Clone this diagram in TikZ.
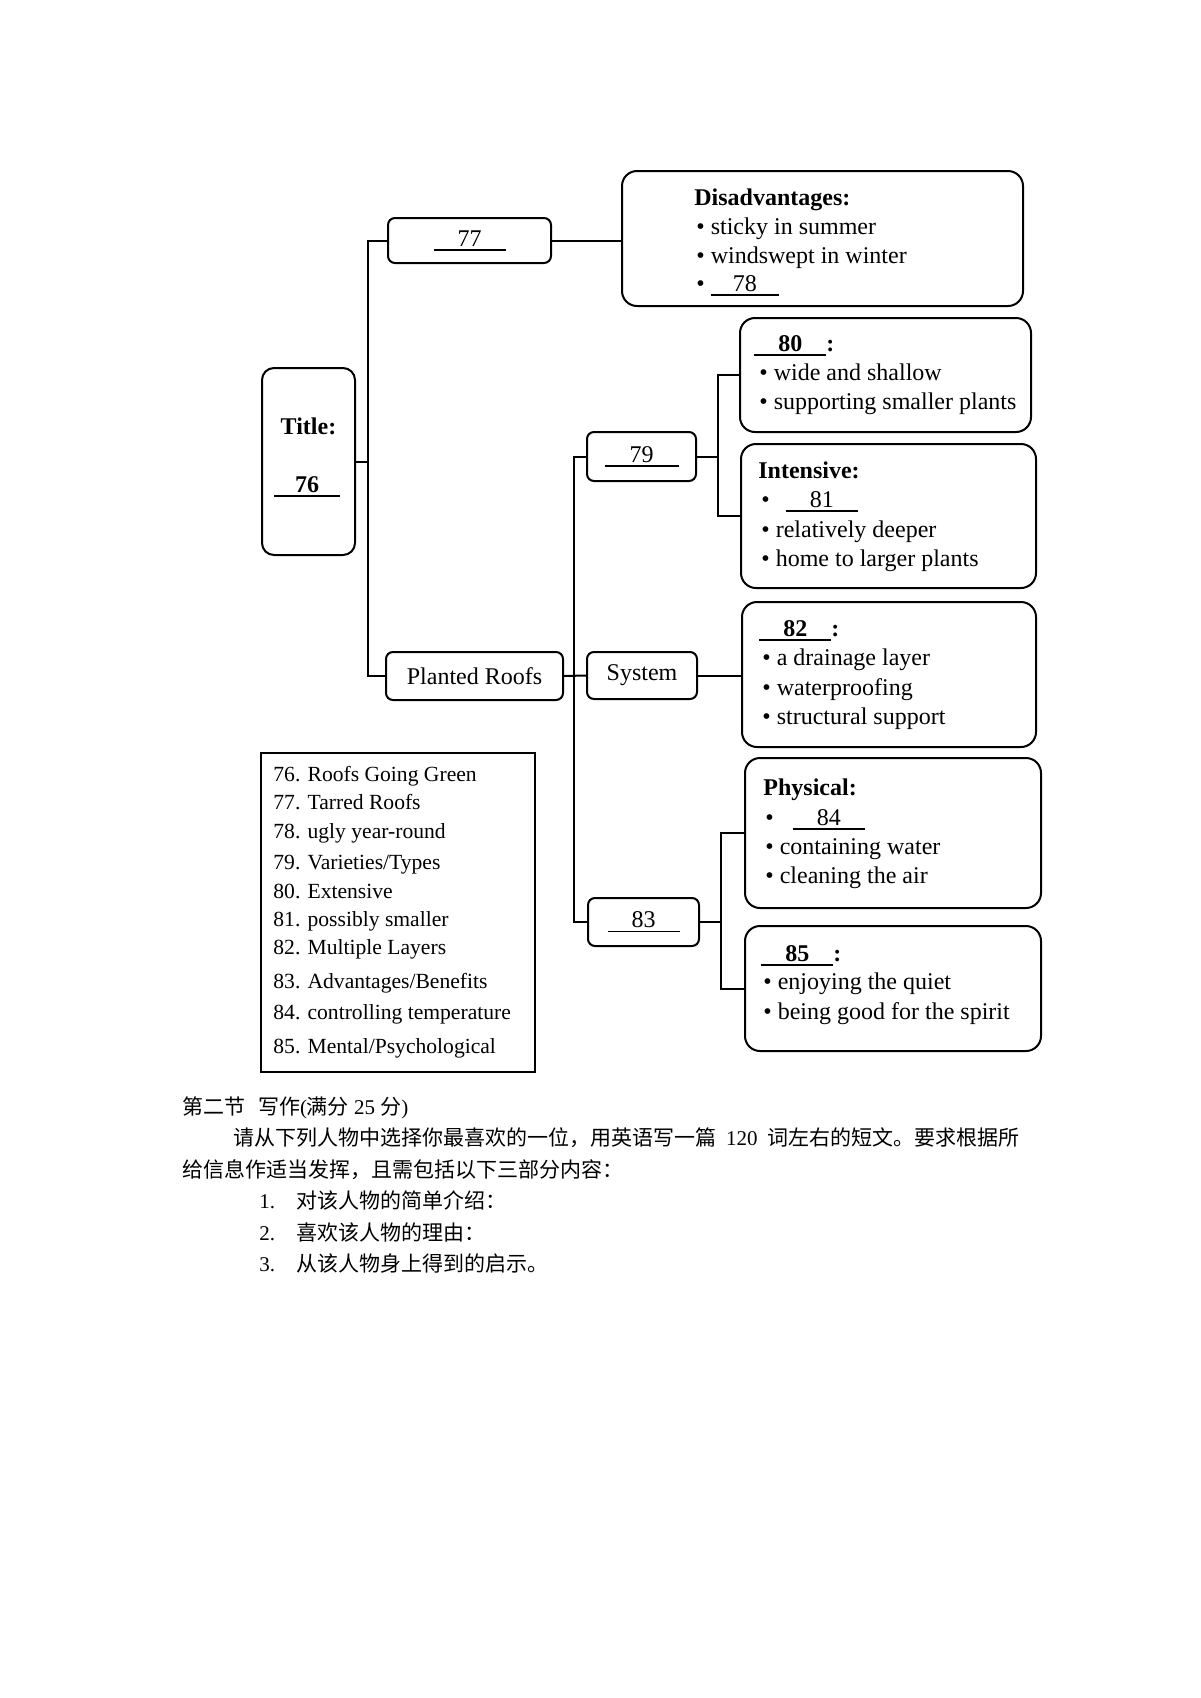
\documentclass[tikz,border=0pt]{standalone}
\usepackage{fontspec}
\setmainfont{Liberation Serif}
\newfontfamily\cjk{Noto Sans CJK SC}
\newcommand{\blank}[2]{\leavevmode\hbox to #1{\hfil #2\hfil}\llap{\rule[-2.3pt]{#1}{0.75pt}}}
\newcommand{\bul}{\textbullet\ }
\tikzset{
  bigbox/.style={draw, line width=1pt, rounded corners=7.5pt, inner sep=0pt},
  smallbox/.style={draw, line width=1pt, rounded corners=3.5pt, inner sep=0pt, font=\fontsize{12}{14}\selectfont},
  legbox/.style={draw, line width=1pt, inner sep=0pt},
  conn/.style={line width=1pt},
  txt/.style={anchor=base west, inner sep=0pt, font=\fontsize{12}{14}\selectfont},
  btxt/.style={anchor=base west, inner sep=0pt, font=\bfseries\fontsize{12}{14}\selectfont},
  leg/.style={anchor=base west, inner sep=0pt, font=\fontsize{10.8}{13}\selectfont},
  cn/.style={anchor=base west, inner sep=0pt, font=\cjk\fontsize{10.5}{13}\selectfont},
}
\begin{document}
\begin{tikzpicture}[x=0.5pt,y=-0.5pt]
\useasboundingbox (0,0) rectangle (1200,1698);
\fill[white] (0,0) rectangle (1200,1698);

% ---------- boxes ----------
\node[bigbox, rounded corners=6pt, minimum width=46.5pt, minimum height=93.5pt] (title) at (308.5,461.5) {};
\node[smallbox, minimum width=81.5pt, minimum height=22.5pt] (b77) at (469.5,240.5) {\blank{36pt}{77}};
\node[bigbox, minimum width=200.5pt, minimum height=67.5pt] (dis) at (822.5,238.5) {};
\node[bigbox, minimum width=145.5pt, minimum height=57pt] (b80) at (885.5,375) {};
\node[smallbox, minimum width=54.5pt, minimum height=24.5pt] (b79) at (641.5,456.5) {\blank{37pt}{79}};
\node[bigbox, minimum width=147.5pt, minimum height=72pt] (int) at (888.5,516) {};
\node[smallbox, minimum width=88.5pt, minimum height=24pt] (pr) at (474.5,676) {Planted Roofs};
\node[smallbox, minimum width=55pt, minimum height=23.5pt] (sys) at (642,675.5) {System};
\node[bigbox, minimum width=147pt, minimum height=72.5pt] (b82) at (889,674.5) {};
\node[legbox, minimum width=137pt, minimum height=159.5pt] (leg) at (398,912.5) {};
\node[bigbox, minimum width=148pt, minimum height=75pt] (phy) at (893,833) {};
\node[smallbox, minimum width=55.5pt, minimum height=24pt] (b83) at (643.5,922) {\blank{36pt}{83}};
\node[bigbox, minimum width=148pt, minimum height=62.5pt] (b85) at (893,988.5) {};

% ---------- connectors ----------
\coordinate (j1) at (368,461.5);
\coordinate (j2) at (574,676);
\coordinate (j3) at (718,456.5);
\coordinate (j4) at (721,922);
\draw[conn] (title.east) -- (j1);
\draw[conn] (b77.west) -| (j1) |- (pr.west);
\draw[conn] (b77.east) -- (b77.east -| dis.west);
\draw[conn] (pr.east) -- (sys.west);
\draw[conn] (b79.west) -| (j2) |- (b83.west);
\draw[conn] (sys.east) -- (sys.east -| b82.west);
\draw[conn] (b79.east) -- (j3);
\draw[conn] (b80.west) -| (j3) |- (int.west);
\draw[conn] (b83.east) -- (j4);
\draw[conn] (phy.west) -| (j4) |- (b85.west);

% ---------- title ----------
\node[btxt, anchor=base] (tt1) at (308.5,434) {Title:};
\node[btxt, anchor=base] (tt2) at (307,492) {\blank{33pt}{76}};

% ---------- disadvantages ----------
\node[btxt] (d1) at (694,205) {Disadvantages:};
\node[txt] (d2) at (696,234) {\bul sticky in summer};
\node[txt] (d3) at (696,263) {\bul windswept in winter};
\node[txt] (d4) at (696,291) {\bul\blank{34pt}{78}};

% ---------- extensive ----------
\node[btxt] (e1) at (754,351) {\blank{36pt}{80}:};
\node[txt] (e2) at (759,380) {\bul wide and shallow};
\node[txt] (e3) at (759,409) {\bul supporting smaller plants};

% ---------- intensive ----------
\node[btxt] (i1) at (758,478) {Intensive:};
\node[txt] (i2) at (761,507) {\textbullet\hspace{8pt}\blank{36pt}{81}};
\node[txt] (i3) at (761,537) {\bul relatively deeper};
\node[txt] (i4) at (761,566) {\bul home to larger plants};

% ---------- layers ----------
\node[btxt] (m1) at (759,636) {\blank{36pt}{82}:};
\node[txt] (m2) at (762,665) {\bul a drainage layer};
\node[txt] (m3) at (762,695) {\bul waterproofing};
\node[txt] (m4) at (762,724) {\bul structural support};

% ---------- physical ----------
\node[btxt] (p1) at (763,795) {Physical:};
\node[txt] (p2) at (765,825) {\textbullet\hspace{9.5pt}\blank{36pt}{84}};
\node[txt] (p3) at (765,854) {\bul containing water};
\node[txt] (p4) at (765,883) {\bul cleaning the air};

% ---------- mental ----------
\node[btxt] (q1) at (761,961) {\blank{36pt}{85}:};
\node[txt] (q2) at (763,989) {\bul enjoying the quiet};
\node[txt] (q3) at (763,1019) {\bul being good for the spirit};

% ---------- legend ----------
\node[leg] (g1) at (273,781) {76. Roofs Going Green};
\node[leg] (g2) at (273,809) {77. Tarred Roofs};
\node[leg] (g3) at (273,838) {78. ugly year-round};
\node[leg] (g4) at (273,869) {79. Varieties/Types};
\node[leg] (g5) at (273,898) {80. Extensive};
\node[leg] (g6) at (273,926) {81. possibly smaller};
\node[leg] (g7) at (273,954) {82. Multiple Layers};
\node[leg] (g8) at (273,988) {83. Advantages/Benefits};
\node[leg] (g9) at (273,1019) {84. controlling temperature};
\node[leg] (g10) at (273,1053) {85. Mental/Psychological};

% ---------- chinese text ----------
\node[cn] (c1) at (182,1114) {第二节\hspace{0.6em}写作{\rmfamily (}满分{\rmfamily\ 25 }分{\rmfamily )}};
\node[cn] (c2) at (233,1145) {\makebox[393pt][s]{请从下列人物中选择你最喜欢的一位，用英语写一篇{\rmfamily\ 120 }词左右的短文。要求根据所}};
\node[cn] (c3) at (182,1177) {给信息作适当发挥，且需包括以下三部分内容：};
\node[cn] (c4n) at (259,1208) {\rmfamily 1.};
\node[cn] (c4) at (296,1208) {对该人物的简单介绍：};
\node[cn] (c5n) at (259,1240) {\rmfamily 2.};
\node[cn] (c5) at (296,1240) {喜欢该人物的理由：};
\node[cn] (c6n) at (259,1271) {\rmfamily 3.};
\node[cn] (c6) at (296,1271) {从该人物身上得到的启示。};
\end{tikzpicture}
\end{document}
